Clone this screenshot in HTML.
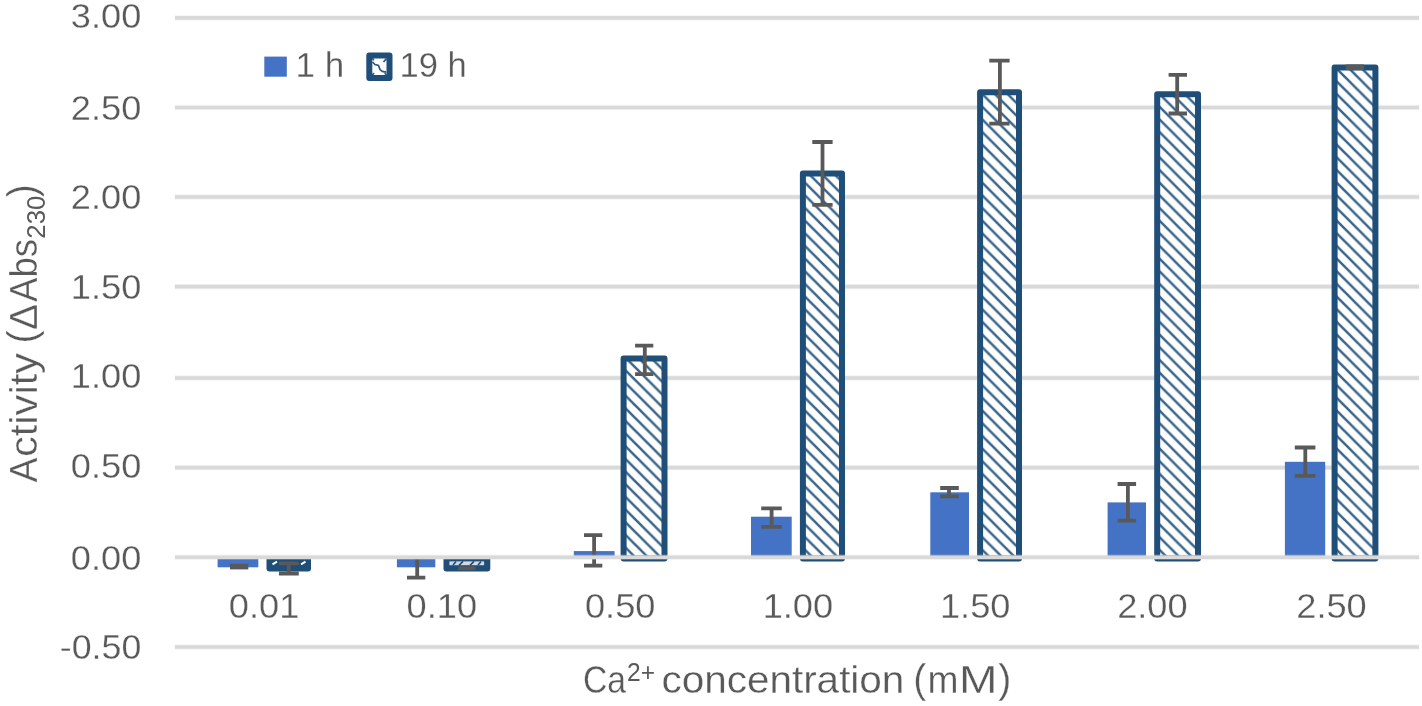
<!DOCTYPE html>
<html lang="en"><head><meta charset="utf-8"><title>Activity vs Ca2+ concentration</title>
<style>
html,body{margin:0;padding:0;background:#fff;}
body{width:1422px;height:706px;overflow:hidden;}
svg{display:block;}
text{font-family:"Liberation Sans",Arial,sans-serif;fill:#595959;stroke:#fff;stroke-width:0.3px;}
text.s{stroke:none;}
</style></head><body>
<svg width="1422" height="706" viewBox="0 0 1422 706">
<defs>
<pattern id="hatch" width="12.66" height="12.66" patternUnits="userSpaceOnUse" x="3" y="1">
<rect width="12.66" height="12.66" fill="#fff"/>
<path d="M-3,-3 L15.66,15.66 M-3,9.66 L3,15.66 M9.66,-3 L15.66,3" stroke="#1F4E79" stroke-width="2.5" stroke-opacity="0.88" fill="none"/>
</pattern>
</defs>
<rect width="1422" height="706" fill="#fff"/>

<line x1="174.6" y1="17.90" x2="1419.3" y2="17.90" stroke="#D9D9D9" stroke-width="5.4" stroke-opacity="0.3"/><line x1="175" y1="17.90" x2="1419" y2="17.90" stroke="#D9D9D9" stroke-width="3.6"/>
<line x1="174.6" y1="107.50" x2="1419.3" y2="107.50" stroke="#D9D9D9" stroke-width="5.4" stroke-opacity="0.3"/><line x1="175" y1="107.50" x2="1419" y2="107.50" stroke="#D9D9D9" stroke-width="3.6"/>
<line x1="174.6" y1="197.00" x2="1419.3" y2="197.00" stroke="#D9D9D9" stroke-width="5.4" stroke-opacity="0.3"/><line x1="175" y1="197.00" x2="1419" y2="197.00" stroke="#D9D9D9" stroke-width="3.6"/>
<line x1="174.6" y1="286.60" x2="1419.3" y2="286.60" stroke="#D9D9D9" stroke-width="5.4" stroke-opacity="0.3"/><line x1="175" y1="286.60" x2="1419" y2="286.60" stroke="#D9D9D9" stroke-width="3.6"/>
<line x1="174.6" y1="378.00" x2="1419.3" y2="378.00" stroke="#D9D9D9" stroke-width="5.4" stroke-opacity="0.3"/><line x1="175" y1="378.00" x2="1419" y2="378.00" stroke="#D9D9D9" stroke-width="3.6"/>
<line x1="174.6" y1="467.60" x2="1419.3" y2="467.60" stroke="#D9D9D9" stroke-width="5.4" stroke-opacity="0.3"/><line x1="175" y1="467.60" x2="1419" y2="467.60" stroke="#D9D9D9" stroke-width="3.6"/>
<line x1="174.6" y1="647.00" x2="1419.3" y2="647.00" stroke="#D9D9D9" stroke-width="5.4" stroke-opacity="0.3"/><line x1="175" y1="647.00" x2="1419" y2="647.00" stroke="#D9D9D9" stroke-width="3.6"/>
<g fill="#4472C4">
<rect x="217.6" y="557.20" width="40.70" height="10.10"/>
<rect x="396.9" y="557.20" width="38.40" height="10.10"/>
<rect x="573.8" y="551.10" width="40.80" height="6.10"/>
<rect x="751" y="516.70" width="40.70" height="40.50"/>
<rect x="930.3" y="492.30" width="38.70" height="64.90"/>
<rect x="1107.6" y="502.40" width="38.40" height="54.80"/>
<rect x="1284.9" y="461.80" width="40.30" height="95.40"/>
</g>
<g fill="url(#hatch)" stroke="#1F4E79" stroke-width="6" stroke-linejoin="round">
<rect x="623.60" y="358.50" width="40.90" height="200.00"/>
<rect x="802.90" y="173.50" width="39.10" height="385.00"/>
<rect x="980.10" y="92.20" width="38.90" height="466.30"/>
<rect x="1157.20" y="94.20" width="40.80" height="464.30"/>
<rect x="1334.60" y="67.40" width="40.80" height="491.10"/>
</g>
<path d="M266.5,557.20 H311 V568.4 Q311,571.4 308,571.4 H269.5 Q266.5,571.4 266.5,568.4 Z" fill="#1F4E79"/>
<path d="M443.5,557.20 H490.3 V568.5 Q490.3,571.5 487.3,571.5 H446.5 Q443.5,571.5 443.5,568.5 Z" fill="#1F4E79"/>
<rect x="449.4" y="561.4" width="34.7" height="3.8" fill="#fff" fill-opacity="0.8"/>
<path d="M453,565 l3,-3.4 M459,565.4 l4,-4 M470,565.4 l4,-4 M478,565 l3,-3.4" stroke="#1F4E79" stroke-width="1.6"/>
<path d="M272.5,564.3 l4.5,-2.6 M301,564.3 l4.5,-2.6" stroke="#fff" stroke-width="2"/>
<g stroke="#595959" stroke-width="3.8" fill="none">
<rect x="230" y="563.8" width="18.3" height="5.6" fill="#595959" stroke="none"/>
<path d="M417.2,556.0 V577.7 M407.0,577.7 H425.3"/>
<path d="M594.1,535.2 V565.6 M584.0,535.2 H602.3 M584.0,565.6 H602.3"/>
<path d="M771.6,508.4 V526.8 M761.2,508.4 H781.8 M761.2,526.8 H781.8"/>
<path d="M949.0,488.0 V496.3 M940.2,488.0 H958.8 M940.2,496.3 H958.8"/>
<path d="M1127.9,484.0 V520.7 M1117.6,484.0 H1136.1 M1117.6,520.7 H1136.1"/>
<path d="M1305.3,447.5 V475.9 M1294.8,447.5 H1315.4 M1294.8,475.9 H1315.4"/>
<path d="M288.8,563.3 V573.5 M279.0,563.3 H298.8 M279.0,573.5 H298.8"/>
<rect x="458.3" y="566.3" width="17.4" height="3.9" fill="#595959" stroke="none"/>
<path d="M644.8,345.6 V374.2 M635.1,345.6 H653.3 M635.1,374.2 H653.3"/>
<path d="M822.5,142.0 V204.9 M812.3,142.0 H832.6 M812.3,204.9 H832.6"/>
<path d="M999.9,60.7 V123.6 M989.3,60.7 H1009.6 M989.3,123.6 H1009.6"/>
<path d="M1177.2,74.9 V113.5 M1168.6,74.9 H1187.0 M1168.6,113.5 H1187.0"/>
<rect x="1345.8" y="64.4" width="18.1" height="5.7" fill="#595959" stroke="none"/>
</g>
<line x1="174.6" y1="557.20" x2="1419.3" y2="557.20" stroke="#D9D9D9" stroke-width="5.4" stroke-opacity="0.3"/><line x1="175" y1="557.20" x2="1419" y2="557.20" stroke="#D9D9D9" stroke-width="3.6"/>
<text x="141.3" y="28.00" font-size="35.6" text-anchor="end" textLength="70.5" lengthAdjust="spacingAndGlyphs">3.00</text>
<text x="141.3" y="120.00" font-size="35.6" text-anchor="end" textLength="70.5" lengthAdjust="spacingAndGlyphs">2.50</text>
<text x="141.3" y="209.00" font-size="35.6" text-anchor="end" textLength="70.5" lengthAdjust="spacingAndGlyphs">2.00</text>
<text x="141.3" y="299.00" font-size="35.6" text-anchor="end" textLength="70.5" lengthAdjust="spacingAndGlyphs">1.50</text>
<text x="141.3" y="388.00" font-size="35.6" text-anchor="end" textLength="70.5" lengthAdjust="spacingAndGlyphs">1.00</text>
<text x="141.3" y="478.00" font-size="35.6" text-anchor="end" textLength="70.5" lengthAdjust="spacingAndGlyphs">0.50</text>
<text x="141.3" y="570.00" font-size="35.6" text-anchor="end" textLength="70.5" lengthAdjust="spacingAndGlyphs">0.00</text>
<text x="141.3" y="659.00" font-size="35.6" text-anchor="end" textLength="81.5" lengthAdjust="spacingAndGlyphs">-0.50</text>
<text x="264.10" y="618.2" font-size="35.6" text-anchor="middle" textLength="70.5" lengthAdjust="spacingAndGlyphs">0.01</text>
<text x="441.80" y="618.2" font-size="35.6" text-anchor="middle" textLength="70.5" lengthAdjust="spacingAndGlyphs">0.10</text>
<text x="620.20" y="618.2" font-size="35.6" text-anchor="middle" textLength="70.5" lengthAdjust="spacingAndGlyphs">0.50</text>
<text x="797.90" y="618.2" font-size="35.6" text-anchor="middle" textLength="70.5" lengthAdjust="spacingAndGlyphs">1.00</text>
<text x="975.20" y="618.2" font-size="35.6" text-anchor="middle" textLength="70.5" lengthAdjust="spacingAndGlyphs">1.50</text>
<text x="1152.40" y="618.2" font-size="35.6" text-anchor="middle" textLength="70.5" lengthAdjust="spacingAndGlyphs">2.00</text>
<text x="1331.50" y="618.2" font-size="35.6" text-anchor="middle" textLength="70.5" lengthAdjust="spacingAndGlyphs">2.50</text>
<rect x="264.3" y="56.6" width="22.5" height="20.1" fill="#4472C4"/>
<text x="295.5" y="76.6" font-size="35.6" textLength="48.7" lengthAdjust="spacingAndGlyphs">1 h</text>
<rect x="369.3" y="55.4" width="20.2" height="22.6" fill="#fff" stroke="#1F4E79" stroke-width="6" stroke-linejoin="round"/>
<path d="M372.5,62 L375,64.6 L378.5,65.4 L380,69.6 L382.3,71.4 L386.3,72.2 M383.5,62 L386.5,58.6 M372.3,58.4 l1.6,1.8 M372.3,75 l1.8,-1.8 M386.5,75 l-1.8,-1.8" fill="none" stroke="#1F4E79" stroke-width="1.7" stroke-opacity="0.95"/>
<text x="399.5" y="76.6" font-size="35.6" textLength="67.2" lengthAdjust="spacingAndGlyphs">19 h</text>
<text x="583" y="693" font-size="38.4" textLength="43" lengthAdjust="spacingAndGlyphs">Ca</text>
<text x="627" y="681.3" class="s" font-size="26" textLength="28" lengthAdjust="spacingAndGlyphs">2+</text>
<text x="661.4" y="693" font-size="38.4" textLength="243" lengthAdjust="spacingAndGlyphs">concentration</text>
<text x="913.2" y="692.8" font-size="41" textLength="13" lengthAdjust="spacingAndGlyphs">(</text>
<text x="927.5" y="693" font-size="38.4" textLength="31" lengthAdjust="spacingAndGlyphs">m</text>
<text x="959" y="693" font-size="38.4" textLength="38.5" lengthAdjust="spacingAndGlyphs">M</text>
<text x="998.3" y="692.8" font-size="41" textLength="13" lengthAdjust="spacingAndGlyphs">)</text>
<g transform="translate(36.5,483) rotate(-90)">
<text x="0.6" y="0" font-size="38.4" textLength="25" lengthAdjust="spacingAndGlyphs">A</text>
<text x="26" y="0" font-size="38.4" textLength="104" lengthAdjust="spacingAndGlyphs">ctivity</text>
<text x="139.5" y="-0.2" font-size="41" textLength="13" lengthAdjust="spacingAndGlyphs">(</text>
<text x="153" y="0" font-size="38.4" textLength="26" lengthAdjust="spacingAndGlyphs">Δ</text>
<text x="181" y="0" font-size="38.4" textLength="63" lengthAdjust="spacingAndGlyphs">Abs</text>
<text x="244.3" y="8.1" class="s" font-size="26" textLength="43" lengthAdjust="spacingAndGlyphs">230</text>
<text x="285.8" y="-0.2" font-size="41" textLength="13" lengthAdjust="spacingAndGlyphs">)</text>
</g>
</svg>
</body></html>
